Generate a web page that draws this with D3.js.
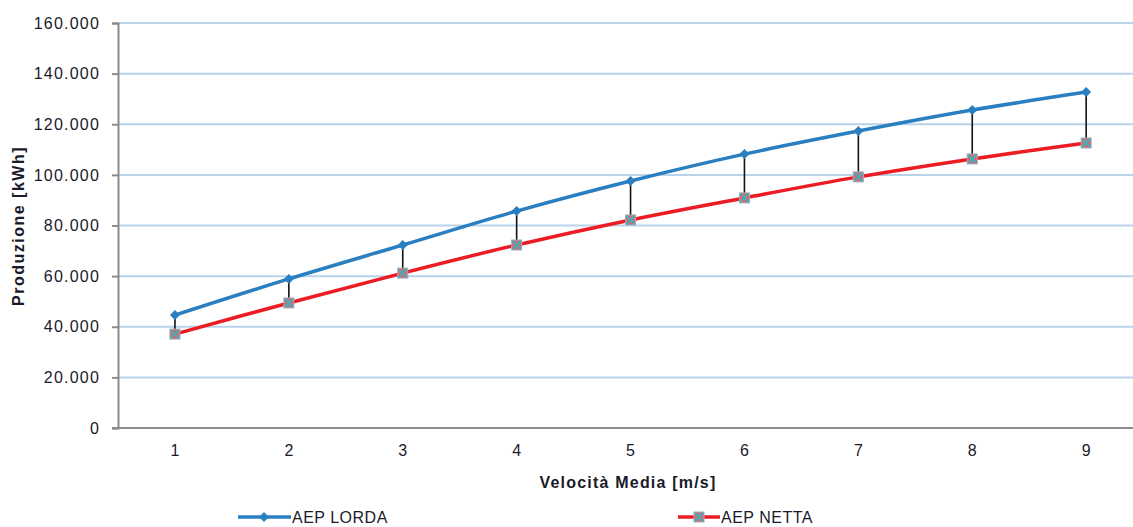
<!DOCTYPE html>
<html>
<head>
<meta charset="utf-8">
<script src="https://cdn.jsdelivr.net/npm/d3@7"></script>
<style>
    body { margin: 0; background: #fff; }
    text { font-family: "Liberation Sans", Arial, sans-serif; }
</style>
</head>
<body>
<div id="chart"></div>
<script>
// Data
const categories = [1, 2, 3, 4, 5, 6, 7, 8, 9];
const aepLorda = [44600, 58900, 72300, 85700, 97600, 108200, 117300, 125600, 132700];
const aepNetta = [37100, 49400, 61200, 72300, 82200, 90900, 99200, 106300, 112600];
const yTicks = [0, 20000, 40000, 60000, 80000, 100000, 120000, 140000, 160000];

const width = 1133;
const height = 527;
const margin = { top: 23, left: 118, bottom: 99 };

const svg = d3.select('#chart')
    .append('svg')
    .attr('width', width)
    .attr('height', height);

// Scales (plot area runs a bit past the right edge, as in the original)
const x = d3.scaleBand()
    .domain(categories)
    .range([margin.left, margin.left + 9 * 113.9]);

const y = d3.scaleLinear()
    .domain([0, 160000])
    .range([height - margin.bottom, margin.top]);

const cx = d => x(d) + x.bandwidth() / 2;
const fmt = v => v === 0 ? '0' : d3.format(',.3f')(v / 1000).replace(/,/g, '');

// Gridlines
svg.append('g')
    .selectAll('line')
    .data(yTicks.filter(t => t > 0))
    .enter()
    .append('line')
    .attr('x1', margin.left)
    .attr('x2', width)
    .attr('y1', d => y(d))
    .attr('y2', d => y(d))
    .attr('stroke', '#b9d3ea')
    .attr('stroke-width', 2);

// Y axis
const yAxis = svg.append('g')
    .attr('transform', `translate(${margin.left},0)`)
    .call(d3.axisLeft(y).tickValues(yTicks).tickFormat(fmt).tickSize(6).tickPadding(12));
yAxis.select('.domain').attr('stroke', '#8c8c8c').attr('stroke-width', 2);
yAxis.selectAll('.tick line').attr('stroke', '#8c8c8c').attr('stroke-width', 2);
yAxis.selectAll('.tick text')
    .attr('font-size', '16px')
    .attr('letter-spacing', '1.2px')
    .attr('fill', '#1a1a2a');

// X axis
const xAxis = svg.append('g')
    .attr('transform', `translate(0,${y(0)})`)
    .call(d3.axisBottom(x).tickSize(0).tickPadding(17));
xAxis.select('.domain').attr('stroke', '#8c8c8c').attr('stroke-width', 2)
    .attr('d', `M${margin.left - 6},0H${width}`);
xAxis.selectAll('.tick text')
    .attr('font-size', '16px')
    .attr('fill', '#1a1a2a');

// Axis titles
svg.append('text')
    .attr('x', 628)
    .attr('y', 488)
    .attr('text-anchor', 'middle')
    .attr('font-size', '16px')
    .attr('font-weight', 'bold')
    .attr('letter-spacing', '1.2px')
    .attr('fill', '#1a1a2a')
    .text('Velocità Media [m/s]');

svg.append('text')
    .attr('transform', 'translate(24,226) rotate(-90)')
    .attr('text-anchor', 'middle')
    .attr('font-size', '16px')
    .attr('font-weight', 'bold')
    .attr('letter-spacing', '1.5px')
    .attr('fill', '#1a1a2a')
    .text('Produzione [kWh]');

// High-low drop lines
svg.append('g')
    .selectAll('line')
    .data(categories)
    .enter()
    .append('line')
    .attr('x1', d => cx(d))
    .attr('x2', d => cx(d))
    .attr('y1', (d, i) => y(aepLorda[i]))
    .attr('y2', (d, i) => y(aepNetta[i]))
    .attr('stroke', '#111')
    .attr('stroke-width', 1.6);

// Lines
const line = d3.line()
    .x(d => cx(d.c))
    .y(d => y(d.v))
    .curve(d3.curveCatmullRom.alpha(0.5));

const lordaPts = categories.map((c, i) => ({ c: c, v: aepLorda[i] }));
const nettaPts = categories.map((c, i) => ({ c: c, v: aepNetta[i] }));

svg.append('path')
    .datum(lordaPts)
    .attr('fill', 'none')
    .attr('stroke', '#2a7fc1')
    .attr('stroke-width', 3.5)
    .attr('d', line);

svg.append('path')
    .datum(nettaPts)
    .attr('fill', 'none')
    .attr('stroke', '#ec1c24')
    .attr('stroke-width', 3.5)
    .attr('d', line);

// Markers
function diamond(g, px, py) {
    g.append('path')
        .attr('d', `M${px},${py - 5}L${px + 5},${py}L${px},${py + 5}L${px - 5},${py}Z`)
        .attr('fill', '#2a7fc1');
}

function squareX(g, px, py) {
    g.append('rect')
        .attr('x', px - 5).attr('y', py - 5)
        .attr('width', 10).attr('height', 10)
        .attr('fill', '#d8676a')
        .attr('stroke', '#8fb5c4')
        .attr('stroke-width', 1);
    g.append('path')
        .attr('d', `M${px - 4},${py - 4}L${px + 4},${py + 4}M${px + 4},${py - 4}L${px - 4},${py + 4}`)
        .attr('stroke', '#3fb0c0')
        .attr('stroke-width', 2);
}

const markers = svg.append('g');
lordaPts.forEach(d => diamond(markers, cx(d.c), y(d.v)));
nettaPts.forEach(d => squareX(markers, cx(d.c), y(d.v)));

// Legend
const legend = svg.append('g');
legend.append('line')
    .attr('x1', 238).attr('x2', 291)
    .attr('y1', 517).attr('y2', 517)
    .attr('stroke', '#2a7fc1').attr('stroke-width', 3.5);
diamond(legend, 264, 517);
legend.append('text')
    .attr('x', 292).attr('y', 523)
    .attr('font-size', '16px').attr('letter-spacing', '0.5px').attr('fill', '#1a1a2a')
    .text('AEP LORDA');

legend.append('line')
    .attr('x1', 678).attr('x2', 720)
    .attr('y1', 517).attr('y2', 517)
    .attr('stroke', '#ec1c24').attr('stroke-width', 3.5);
squareX(legend, 699, 517);
legend.append('text')
    .attr('x', 721).attr('y', 523)
    .attr('font-size', '16px').attr('letter-spacing', '0.5px').attr('fill', '#1a1a2a')
    .text('AEP NETTA');
</script>
</body>
</html>
